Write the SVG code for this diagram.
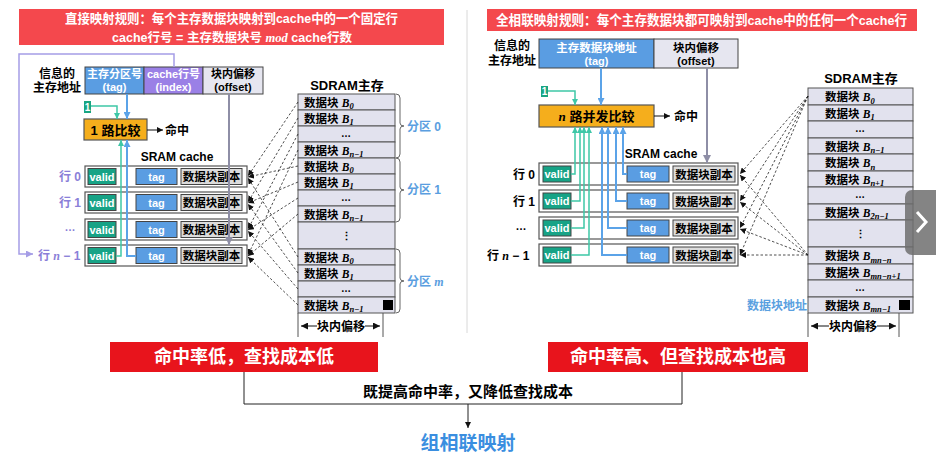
<svg xmlns="http://www.w3.org/2000/svg" width="936" height="460" viewBox="0 0 936 460">
<defs>
<style>
text{font-family:"Liberation Sans","Noto Sans CJK SC",sans-serif;font-weight:bold;}
.m{text-anchor:middle;}
.w{fill:#fff;}
.bi{font-family:"Liberation Serif","Noto Sans CJK SC",serif;font-style:italic;font-weight:bold;}
.box{stroke:#444;stroke-width:1;}
.row{fill:#fff;stroke:#555;stroke-width:1.2;}
.valid{fill:#17a386;stroke:#444;}
.tag{fill:#5a9de2;stroke:#444;}
.dat{fill:#dcdcdc;stroke:#444;}
.mem{fill:#e2e2ee;stroke:#555;stroke-width:1;}
.dash{stroke:#222;stroke-width:0.8;stroke-dasharray:2.5 2;fill:none;marker-end:url(#aK);}
.teal{stroke:#3ec7a7;stroke-width:1.5;fill:none;marker-end:url(#aT);}
.blue{stroke:#5ba3e8;stroke-width:2;fill:none;marker-end:url(#aB);}
.gray{stroke:#8e8ea6;stroke-width:2;fill:none;marker-end:url(#aG);}
.brace{stroke:#666;stroke-width:1;fill:none;}
</style>
<marker id="aK" markerWidth="6" markerHeight="6" refX="6" refY="3" orient="auto" markerUnits="userSpaceOnUse"><path d="M0,0L6,3L0,6z" fill="#111"/></marker>
<marker id="aK2" markerWidth="7" markerHeight="7" refX="7" refY="3.5" orient="auto-start-reverse" markerUnits="userSpaceOnUse"><path d="M0,0L7,3.5L0,7z" fill="#111"/></marker>
<marker id="aT" markerWidth="6" markerHeight="6" refX="6" refY="3" orient="auto" markerUnits="userSpaceOnUse"><path d="M0,0L6,3L0,6z" fill="#3ec7a7"/></marker>
<marker id="aB" markerWidth="7" markerHeight="7" refX="7" refY="3.5" orient="auto" markerUnits="userSpaceOnUse"><path d="M0,0L7,3.5L0,7z" fill="#5ba3e8"/></marker>
<marker id="aG" markerWidth="8" markerHeight="8" refX="8" refY="4" orient="auto" markerUnits="userSpaceOnUse"><path d="M0,0L8,4L0,8z" fill="#8e8ea6"/></marker>
<marker id="aP" markerWidth="7" markerHeight="7" refX="7" refY="3.5" orient="auto" markerUnits="userSpaceOnUse"><path d="M0,0L7,3.5L0,7z" fill="#a59de6"/></marker>
</defs>
<rect width="936" height="460" fill="#fff"/>
<line x1="467" y1="10" x2="467" y2="333" stroke="#d8d8d8" stroke-width="1"/>

<!-- LEFT PANEL -->
<g id="left-title">
<rect x="19" y="9" width="425" height="36" fill="#f4484d"/>
<text x="65" y="23" font-size="13" class="w" textLength="333" lengthAdjust="spacingAndGlyphs">直接映射规则：每个主存数据块映射到cache中的一个固定行</text>
<text x="112" y="42" font-size="12.5" class="w" textLength="240" lengthAdjust="spacingAndGlyphs">cache行号 = 主存数据块号 <tspan class="bi">mod</tspan> cache行数</text>
</g>

<g id="left-address">
<text x="57" y="78" font-size="12" class="m">信息的</text>
<text x="57" y="92" font-size="12" class="m">主存地址</text>
<rect x="85" y="67" width="59" height="27" class="box" fill="#5a9de2"/>
<rect x="144" y="67" width="59" height="27" class="box" fill="#9a80e6"/>
<rect x="203" y="67" width="60" height="27" class="box" fill="#e6e6f0"/>
<text x="114.5" y="78" font-size="11" class="m w">主存分区号</text>
<text x="114.5" y="91" font-size="11" class="m w" font-weight="normal">(tag)</text>
<text x="173.5" y="78" font-size="11" class="m w">cache行号</text>
<text x="173.5" y="91" font-size="11" class="m w">(index)</text>
<text x="233" y="78" font-size="11" class="m">块内偏移</text>
<text x="233" y="91" font-size="11" class="m">(offset)</text>
</g>

<g id="left-one">
<rect x="84" y="101" width="7" height="12" fill="#19a582"/>
<text x="87.5" y="111" font-size="10" class="m w">1</text>
</g>

<g id="left-comparator">
<rect x="84" y="119" width="63" height="21" fill="#f5ae1c" stroke="#555" stroke-width="1.2"/>
<text x="115.5" y="135" font-size="13" class="m">1 路比较</text>
<text x="165" y="135" font-size="12">命中</text>
</g>

<text x="177" y="161" font-size="12" class="m">SRAM  cache</text>

<g id="left-cache-row0">
<rect x="85" y="166" width="162" height="21" class="row"/>
<rect x="88" y="168.5" width="28" height="16" class="valid"/><text x="102" y="180.5" font-size="11" class="m w" font-weight="normal">valid</text>
<rect x="136" y="168.5" width="41" height="16" class="tag"/><text x="156.5" y="180.5" font-size="11" class="m w" font-weight="normal">tag</text>
<rect x="181" y="168.5" width="61" height="16" class="dat"/><text x="211.5" y="181" font-size="11.5" class="m">数据块副本</text>
<text x="59" y="181" font-size="12" fill="#8a80d8">行 0</text>
</g>
<g id="left-cache-row1">
<rect x="85" y="192" width="162" height="21" class="row"/>
<rect x="88" y="194.5" width="28" height="16" class="valid"/><text x="102" y="206.5" font-size="11" class="m w" font-weight="normal">valid</text>
<rect x="136" y="194.5" width="41" height="16" class="tag"/><text x="156.5" y="206.5" font-size="11" class="m w" font-weight="normal">tag</text>
<rect x="181" y="194.5" width="61" height="16" class="dat"/><text x="211.5" y="207" font-size="11.5" class="m">数据块副本</text>
<text x="59" y="207" font-size="12" fill="#8a80d8">行 1</text>
</g>
<g id="left-cache-row2">
<rect x="85" y="219" width="162" height="21" class="row"/>
<rect x="88" y="221.5" width="28" height="16" class="valid"/><text x="102" y="233.5" font-size="11" class="m w" font-weight="normal">valid</text>
<rect x="136" y="221.5" width="41" height="16" class="tag"/><text x="156.5" y="233.5" font-size="11" class="m w" font-weight="normal">tag</text>
<rect x="181" y="221.5" width="61" height="16" class="dat"/><text x="211.5" y="234" font-size="11.5" class="m">数据块副本</text>
<text x="70" y="231" font-size="11" fill="#8a80d8" class="m" font-weight="normal">…</text>
</g>
<g id="left-cache-row3">
<rect x="85" y="245" width="162" height="21" class="row"/>
<rect x="88" y="247.5" width="28" height="16" class="valid"/><text x="102" y="259.5" font-size="11" class="m w" font-weight="normal">valid</text>
<rect x="136" y="247.5" width="41" height="16" class="tag"/><text x="156.5" y="259.5" font-size="11" class="m w" font-weight="normal">tag</text>
<rect x="181" y="247.5" width="61" height="16" class="dat"/><text x="211.5" y="260" font-size="11.5" class="m">数据块副本</text>
<text x="38" y="260" font-size="12" fill="#8a80d8">行 <tspan class="bi">n</tspan> − 1</text>
</g>

<g id="left-sdram">
<text x="347" y="90" font-size="13" class="m">SDRAM主存</text>
<rect x="298" y="94" width="97" height="16" class="mem"/>
<rect x="298" y="110" width="97" height="16" class="mem"/>
<rect x="298" y="126" width="97" height="16" class="mem"/>
<rect x="298" y="142" width="97" height="16" class="mem"/>
<rect x="298" y="158" width="97" height="16" class="mem"/>
<rect x="298" y="174" width="97" height="16" class="mem"/>
<rect x="298" y="190" width="97" height="16" class="mem"/>
<rect x="298" y="206" width="97" height="16" class="mem"/>
<rect x="298" y="222" width="97" height="27" class="mem"/>
<rect x="298" y="249" width="97" height="16" class="mem"/>
<rect x="298" y="265" width="97" height="16" class="mem"/>
<rect x="298" y="281" width="97" height="16" class="mem"/>
<rect x="298" y="297" width="97" height="16" class="mem"/>
<text x="304" y="106.5" font-size="11.5">数据块 <tspan class="bi">B</tspan><tspan class="bi" font-size="8.5" dy="2.5">0</tspan></text>
<text x="304" y="122.5" font-size="11.5">数据块 <tspan class="bi">B</tspan><tspan class="bi" font-size="8.5" dy="2.5">1</tspan></text>
<text x="346" y="137" font-size="10" class="m" font-weight="normal">…</text>
<text x="304" y="154.5" font-size="11.5">数据块 <tspan class="bi">B</tspan><tspan class="bi" font-size="8.5" dy="2.5">n−1</tspan></text>
<text x="304" y="170.5" font-size="11.5">数据块 <tspan class="bi">B</tspan><tspan class="bi" font-size="8.5" dy="2.5">0</tspan></text>
<text x="304" y="186.5" font-size="11.5">数据块 <tspan class="bi">B</tspan><tspan class="bi" font-size="8.5" dy="2.5">1</tspan></text>
<text x="346" y="201" font-size="10" class="m" font-weight="normal">…</text>
<text x="304" y="218.5" font-size="11.5">数据块 <tspan class="bi">B</tspan><tspan class="bi" font-size="8.5" dy="2.5">n−1</tspan></text>
<text x="346" y="240" font-size="11" class="m" font-weight="normal">⋮</text>
<text x="304" y="261.5" font-size="11.5">数据块 <tspan class="bi">B</tspan><tspan class="bi" font-size="8.5" dy="2.5">0</tspan></text>
<text x="304" y="277.5" font-size="11.5">数据块 <tspan class="bi">B</tspan><tspan class="bi" font-size="8.5" dy="2.5">1</tspan></text>
<text x="346" y="292" font-size="10" class="m" font-weight="normal">…</text>
<text x="304" y="309.5" font-size="11.5">数据块 <tspan class="bi">B</tspan><tspan class="bi" font-size="8.5" dy="2.5">n−1</tspan></text>
<rect x="383" y="300" width="10" height="10" fill="#000"/>
<path class="brace" d="M396,94 Q400,94 400,98 V123 Q400,126 404,126 Q400,126 400,129 V154 Q400,158 396,158"/>
<path class="brace" d="M396,158 Q400,158 400,162 V187 Q400,190 404,190 Q400,190 400,193 V218 Q400,222 396,222"/>
<path class="brace" d="M396,249 Q400,249 400,253 V278 Q400,281 404,281 Q400,281 400,284 V309 Q400,313 396,313"/>
<text x="407" y="131" font-size="12" fill="#5a9ee0">分区 0</text>
<text x="407" y="194" font-size="12" fill="#5a9ee0">分区 1</text>
<text x="407" y="286" font-size="12" fill="#5a9ee0">分区 <tspan class="bi">m</tspan></text>
<line x1="298" y1="313" x2="298" y2="337" stroke="#555"/>
<line x1="383" y1="313" x2="383" y2="337" stroke="#555"/>
<line x1="301" y1="326" x2="380" y2="326" stroke="#111" marker-start="url(#aK2)" marker-end="url(#aK2)"/>
<rect x="317" y="318" width="48" height="16" fill="#fff"/>
<text x="341" y="331" font-size="12" class="m">块内偏移</text>
</g>

<g id="left-connectors">
<path d="M174,67 V54 H19 V254 H33" stroke="#a59de6" stroke-width="1.5" fill="none" marker-end="url(#aP)"/>
<path class="blue" d="M127,94 V119"/>
<path class="teal" d="M91,106 H117 V119"/>
<path class="teal" d="M116,256 H121 V140"/>
<path class="blue" d="M136,256 H127 V140"/>
<path class="gray" d="M229,94 V245"/>
<path d="M147,130 H163" stroke="#111" stroke-width="1" marker-end="url(#aK)"/>
<path class="dash" d="M298,102 L248,176"/>
<path class="dash" d="M298,118 L248,202"/>
<path class="dash" d="M298,134 L248,229"/>
<path class="dash" d="M298,150 L248,255"/>
<path class="dash" d="M298,166 L248,177"/>
<path class="dash" d="M298,182 L248,203"/>
<path class="dash" d="M298,198 L248,230"/>
<path class="dash" d="M298,214 L248,256"/>
<path class="dash" d="M298,257 L248,178"/>
<path class="dash" d="M298,273 L248,204"/>
<path class="dash" d="M298,289 L248,231"/>
<path class="dash" d="M298,305 L248,257"/>
</g>

<!-- RIGHT PANEL -->
<g id="right-title">
<rect x="487" y="9" width="430" height="22" fill="#f4484d"/>
<text x="496" y="24.5" font-size="13.5" class="w" textLength="411" lengthAdjust="spacingAndGlyphs">全相联映射规则：每个主存数据块都可映射到cache中的任何一个cache行</text>
</g>

<g id="right-address">
<text x="512" y="50" font-size="12" class="m">信息的</text>
<text x="512" y="65" font-size="12" class="m">主存地址</text>
<rect x="539" y="39" width="115" height="29" class="box" fill="#5a9de2"/>
<rect x="654" y="39" width="84" height="29" class="box" fill="#e6e6f0"/>
<text x="596.5" y="52" font-size="11.5" class="m w">主存数据块地址</text>
<text x="596.5" y="65" font-size="11" class="m w" font-weight="normal">(tag)</text>
<text x="696" y="52" font-size="11.5" class="m">块内偏移</text>
<text x="696" y="65" font-size="11" class="m">(offset)</text>
</g>

<g id="right-one">
<rect x="541" y="86" width="7" height="11" fill="#19a582"/>
<text x="544.5" y="95" font-size="10" class="m w">1</text>
</g>

<g id="right-comparator">
<rect x="539" y="105" width="115" height="22" fill="#f5ae1c" stroke="#555" stroke-width="1.2"/>
<text x="596.5" y="121" font-size="13" class="m"><tspan class="bi">n</tspan> 路并发比较</text>
<text x="674" y="121" font-size="12">命中</text>
</g>

<text x="661" y="158" font-size="12" class="m">SRAM  cache</text>

<g id="right-cache-row0">
<rect x="539" y="163" width="199" height="22" class="row"/>
<rect x="543" y="166" width="28" height="16" class="valid"/><text x="557" y="178" font-size="11" class="m w" font-weight="normal">valid</text>
<rect x="627" y="166" width="42" height="16" class="tag"/><text x="648" y="178" font-size="11" class="m w" font-weight="normal">tag</text>
<rect x="673" y="166" width="62" height="16" class="dat"/><text x="704" y="178.5" font-size="11.5" class="m">数据块副本</text>
<text x="513" y="178.5" font-size="12">行 0</text>
</g>
<g id="right-cache-row1">
<rect x="539" y="190" width="199" height="22" class="row"/>
<rect x="543" y="193" width="28" height="16" class="valid"/><text x="557" y="205" font-size="11" class="m w" font-weight="normal">valid</text>
<rect x="627" y="193" width="42" height="16" class="tag"/><text x="648" y="205" font-size="11" class="m w" font-weight="normal">tag</text>
<rect x="673" y="193" width="62" height="16" class="dat"/><text x="704" y="205.5" font-size="11.5" class="m">数据块副本</text>
<text x="513" y="205.5" font-size="12">行 1</text>
</g>
<g id="right-cache-row2">
<rect x="539" y="217" width="199" height="22" class="row"/>
<rect x="543" y="220" width="28" height="16" class="valid"/><text x="557" y="232" font-size="11" class="m w" font-weight="normal">valid</text>
<rect x="627" y="220" width="42" height="16" class="tag"/><text x="648" y="232" font-size="11" class="m w" font-weight="normal">tag</text>
<rect x="673" y="220" width="62" height="16" class="dat"/><text x="704" y="232.5" font-size="11.5" class="m">数据块副本</text>
<text x="521" y="230" font-size="11" class="m" font-weight="normal">…</text>
</g>
<g id="right-cache-row3">
<rect x="539" y="244" width="199" height="22" class="row"/>
<rect x="543" y="247" width="28" height="16" class="valid"/><text x="557" y="259" font-size="11" class="m w" font-weight="normal">valid</text>
<rect x="627" y="247" width="42" height="16" class="tag"/><text x="648" y="259" font-size="11" class="m w" font-weight="normal">tag</text>
<rect x="673" y="247" width="62" height="16" class="dat"/><text x="704" y="259.5" font-size="11.5" class="m">数据块副本</text>
<text x="487" y="260" font-size="12">行 <tspan class="bi">n</tspan> − 1</text>
</g>

<g id="right-sdram">
<text x="861" y="83" font-size="13" class="m">SDRAM主存</text>
<rect x="808" y="88" width="105" height="17" class="mem"/>
<rect x="808" y="105" width="105" height="16" class="mem"/>
<rect x="808" y="121" width="105" height="17" class="mem"/>
<rect x="808" y="138" width="105" height="16" class="mem"/>
<rect x="808" y="154" width="105" height="17" class="mem"/>
<rect x="808" y="171" width="105" height="16" class="mem"/>
<rect x="808" y="187" width="105" height="17" class="mem"/>
<rect x="808" y="204" width="105" height="16" class="mem"/>
<rect x="808" y="220" width="105" height="27" class="mem"/>
<rect x="808" y="247" width="105" height="17" class="mem"/>
<rect x="808" y="264" width="105" height="16" class="mem"/>
<rect x="808" y="280" width="105" height="17" class="mem"/>
<rect x="808" y="297" width="105" height="16" class="mem"/>
<text x="825" y="101" font-size="11.5">数据块 <tspan class="bi">B</tspan><tspan class="bi" font-size="8.5" dy="2.5">0</tspan></text>
<text x="825" y="117.5" font-size="11.5">数据块 <tspan class="bi">B</tspan><tspan class="bi" font-size="8.5" dy="2.5">1</tspan></text>
<text x="860" y="132" font-size="10" class="m" font-weight="normal">…</text>
<text x="825" y="150.5" font-size="11.5">数据块 <tspan class="bi">B</tspan><tspan class="bi" font-size="8.5" dy="2.5">n−1</tspan></text>
<text x="825" y="167" font-size="11.5">数据块 <tspan class="bi">B</tspan><tspan class="bi" font-size="8.5" dy="2.5">n</tspan></text>
<text x="825" y="183.5" font-size="11.5">数据块 <tspan class="bi">B</tspan><tspan class="bi" font-size="8.5" dy="2.5">n+1</tspan></text>
<text x="860" y="198" font-size="10" class="m" font-weight="normal">…</text>
<text x="825" y="216.5" font-size="11.5">数据块 <tspan class="bi">B</tspan><tspan class="bi" font-size="8.5" dy="2.5">2n−1</tspan></text>
<text x="860" y="238" font-size="11" class="m" font-weight="normal">⋮</text>
<text x="825" y="260" font-size="11.5">数据块 <tspan class="bi">B</tspan><tspan class="bi" font-size="8.5" dy="2.5">mn−n</tspan></text>
<text x="825" y="276.5" font-size="11.5">数据块 <tspan class="bi">B</tspan><tspan class="bi" font-size="8.5" dy="2.5">mn−n+1</tspan></text>
<text x="860" y="291" font-size="10" class="m" font-weight="normal">…</text>
<text x="825" y="309.5" font-size="11.5">数据块 <tspan class="bi">B</tspan><tspan class="bi" font-size="8.5" dy="2.5">mn−1</tspan></text>
<rect x="899" y="300" width="11" height="10" fill="#000"/>
<text x="807" y="310" font-size="12" fill="#5aa0e0" text-anchor="end">数据块地址</text>
<line x1="808" y1="313" x2="808" y2="337" stroke="#555"/>
<line x1="899" y1="313" x2="899" y2="337" stroke="#555"/>
<line x1="811" y1="326" x2="896" y2="326" stroke="#111" marker-start="url(#aK2)" marker-end="url(#aK2)"/>
<rect x="829" y="318" width="48" height="16" fill="#fff"/>
<text x="853" y="331" font-size="12" class="m">块内偏移</text>
</g>

<g id="right-connectors">
<path class="blue" d="M601,68 V105"/>
<path class="teal" d="M548,91 H575 V105"/>
<path class="gray" d="M707,68 V163"/>
<path d="M654,116 H670" stroke="#111" stroke-width="1" marker-end="url(#aK)"/>
<path class="teal" d="M571,174 H575 V127"/>
<path class="teal" d="M571,201 H580 V127"/>
<path class="teal" d="M571,228 H584 V127"/>
<path class="teal" d="M571,255 H589 V127"/>
<path class="blue" d="M627,174 H623 V127"/>
<path class="blue" d="M627,201 H616 V127"/>
<path class="blue" d="M627,228 H608 V127"/>
<path class="blue" d="M627,255 H602 V127"/>
<path class="dash" d="M808,96 L740,174"/>
<path class="dash" d="M808,96 L740,201"/>
<path class="dash" d="M808,96 L740,228"/>
<path class="dash" d="M808,96 L740,255"/>
<path class="dash" d="M808,255 L740,175"/>
<path class="dash" d="M808,255 L740,202"/>
<path class="dash" d="M808,255 L740,229"/>
<path class="dash" d="M808,255 L740,255"/>
</g>

<!-- BOTTOM -->
<g id="low-cost">
<rect x="110" y="342" width="268" height="30" fill="#e8141c"/>
<text x="244" y="363" font-size="18" class="m w">命中率低，查找成本低</text>
</g>
<g id="high-cost">
<rect x="548" y="342" width="260" height="30" fill="#e8141c"/>
<text x="678" y="363" font-size="18" class="m w">命中率高、但查找成本也高</text>
</g>
<g id="bottom-connectors">
<path d="M244,372 V404 H682 V372" stroke="#222" stroke-width="1" fill="none"/>
<path d="M468,404 V428" stroke="#222" stroke-width="1" fill="none" marker-end="url(#aK)"/>
</g>
<text x="468" y="397" font-size="15" class="m">既提高命中率，又降低查找成本</text>
<g id="set-assoc">
<text x="468" y="450" font-size="19" class="m" fill="#3a8ee0">组相联映射</text>
</g>

<g id="scroll-button">
<rect x="905" y="190" width="40" height="65" rx="7" fill="#6e6e6e" opacity="0.85"/>
<path d="M917,212 L926,222 L917,232" stroke="#fff" stroke-width="3" fill="none"/>
</g>
</svg>
